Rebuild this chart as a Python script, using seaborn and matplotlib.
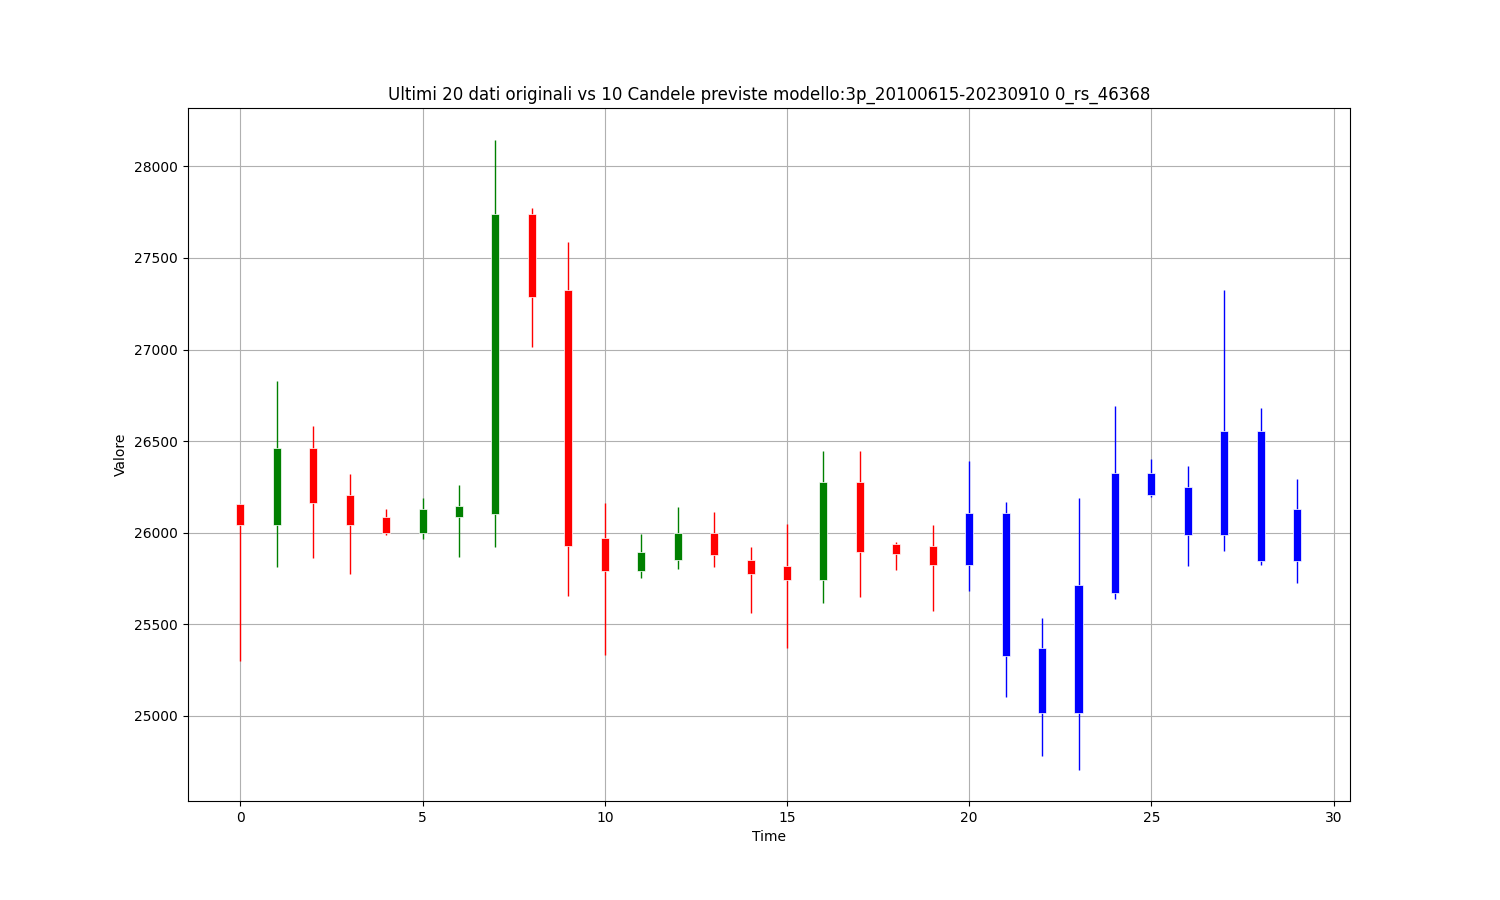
import matplotlib
matplotlib.use("Agg")
import matplotlib.pyplot as plt
import seaborn as sns
import numpy as np
import pandas as pd

# ultimi 20 dati originali (open, high, low, close)
orig_open = [26155, 26042, 26462, 26204, 26084, 26000, 26085, 26100, 27738, 27323,
             25969, 25790, 25850, 25996, 25848, 25815, 25742, 26278, 25938, 25926]
orig_high = [26155, 26829, 26582, 26319, 26128, 26188, 26259, 28147, 27771, 27587,
             26159, 25990, 26138, 26111, 25922, 26047, 26447, 26447, 25948, 26041]
orig_low = [25297, 25812, 25859, 25772, 25987, 25963, 25865, 25921, 27013, 25654,
            25334, 25753, 25802, 25813, 25563, 25372, 25617, 25650, 25796, 25573]
orig_close = [26042, 26462, 26160, 26042, 26000, 26128, 26144, 27738, 27285, 25926,
              25790, 25893, 25996, 25878, 25775, 25742, 26278, 25895, 25883, 25823]

# 10 candele previste
pred_open = [25822, 26105, 25369, 25016, 25669, 26204, 25987, 25987, 26553, 25844]
pred_high = [26389, 26169, 25533, 26187, 26689, 26400, 26362, 27324, 26678, 26293]
pred_low = [25682, 25104, 24780, 24706, 25636, 26195, 25816, 25898, 25822, 25724]
pred_close = [26105, 25327, 25016, 25713, 26324, 26324, 26247, 26553, 25844, 26127]

title = "Ultimi 20 dati originali vs 10 Candele previste modello:3p_20100615-20230910 0_rs_46368"

df = pd.DataFrame({
    "open": orig_open + pred_open,
    "high": orig_high + pred_high,
    "low": orig_low + pred_low,
    "close": orig_close + pred_close,
})
df["time"] = np.arange(len(df))
df["pred"] = df["time"] >= len(orig_open)


def candle_color(row):
    if row["pred"]:
        return "blue"
    return "green" if row["close"] >= row["open"] else "red"


df["color"] = df.apply(candle_color, axis=1)

sns.set_style("ticks", {"axes.grid": True, "grid.color": "#b0b0b0",
                        "axes.edgecolor": "black", "xtick.direction": "out",
                        "ytick.direction": "out", "text.color": "black",
                        "axes.labelcolor": "black", "xtick.color": "black",
                        "ytick.color": "black"})
plt.rcParams["font.family"] = ["DejaVu Sans"]

fig, ax = plt.subplots(figsize=(15, 9), dpi=100)

body_bottom = df[["open", "close"]].min(axis=1)
body_height = (df["open"] - df["close"]).abs()

ax.vlines(df["time"], df["low"], df["high"], colors=df["color"], linewidth=1, zorder=2)
ax.bar(df["time"], body_height, width=0.22, bottom=body_bottom, color=df["color"],
       edgecolor="white", linewidth=0.5, zorder=3)

ax.set_xlim(-1.45, 30.45)
span = df["high"].max() - df["low"].min()
ax.set_ylim(df["low"].min() - 0.05 * span, df["high"].max() + 0.05 * span)
ax.set_xticks(range(0, 31, 5))

ax.grid(True, color="#b0b0b0", linewidth=0.8)
ax.set_axisbelow(True)
for s in ax.spines.values():
    s.set_visible(True)
    s.set_color("black")
    s.set_linewidth(0.8)
ax.tick_params(labelsize=10, length=3.5, width=0.8, color="black", labelcolor="black")

ax.set_title(title, fontsize=12, color="black")
ax.set_xlabel("Time", fontsize=10, color="black")
ax.set_ylabel("Valore", fontsize=10, color="black")

fig.subplots_adjust(left=0.125, right=0.9, top=0.88, bottom=0.11)
fig.savefig("out.png", dpi=100)
